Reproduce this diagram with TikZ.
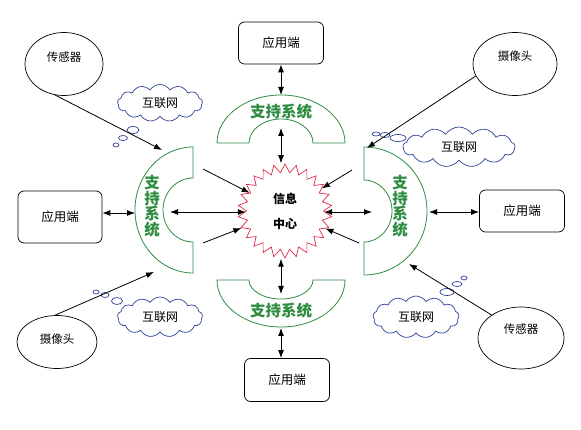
\documentclass[tikz,border=0pt]{standalone}
\usepackage{fontspec}
\setmainfont{Noto Sans CJK SC}
\usepackage{tikz}
\usetikzlibrary{arrows,arrows.meta,shapes,positioning}
\definecolor{supgreen}{RGB}{45,140,65}
\definecolor{starred}{RGB}{225,45,75}
\definecolor{netblue}{RGB}{45,65,150}
\tikzset{
  basic/.style  = {draw, inner sep=0pt, line width=0.7pt},
  client/.style = {basic, rounded corners=6pt, minimum width=85pt, minimum height=42pt, font=\fontsize{12.5}{14}\selectfont},
  device/.style = {basic, ellipse},
  devtext/.style = {font=\fontsize{11.5}{13}\selectfont},
  net/.style    = {basic, cloud, cloud puffs=13, cloud puff arc=115, aspect=2.4, draw=netblue, font=\fontsize{12}{14}\selectfont},
  bubble/.style = {basic, ellipse, draw=netblue},
  support/.style = {draw=supgreen, line width=0.8pt},
  suptext/.style = {text=supgreen, align=center, font=\bfseries\fontsize{15.5}{15.5}\selectfont},
  hub/.style    = {star, star points=26, star point ratio=1.22, draw=starred, line width=0.7pt, minimum size=94pt, inner sep=0pt, align=center, font=\bfseries\fontsize{12}{25}\selectfont},
  link/.style   = {<->, line width=0.9pt},
  feed/.style   = {->, line width=0.8pt}
}

\begin{document}
\begin{tikzpicture}[x=1pt, y=-1pt, >={Latex[length=8pt,width=6pt]}]
\useasboundingbox (0,0) rectangle (581,430);

% the information centre
\node[hub] (hub) at (285,211) {信息\\中心};

% the four support system arcs
\begin{scope}[support]
\draw (217,143) arc[start angle=180, end angle=360, x radius=64, y radius=48] -- (313,143)
  arc[start angle=0, end angle=-180, x radius=32, y radius=24] -- cycle;
\draw (193,147) arc[start angle=270, end angle=90, x radius=58, y radius=63] -- (193,242)
  arc[start angle=90, end angle=270, x radius=30, y radius=32] -- cycle;
\draw (364,147) arc[start angle=-90, end angle=90, x radius=63, y radius=64] -- (364,242)
  arc[start angle=90, end angle=-90, x radius=28, y radius=31] -- cycle;
\draw (217,280) arc[start angle=180, end angle=0, x radius=64, y radius=47] -- (313,280)
  arc[start angle=0, end angle=180, x radius=32, y radius=19] -- cycle;
\end{scope}
\node[suptext] (sup1) at (281,112) {支持系统};
\node[suptext] (sup2) at (152,206) {支\\持\\系\\统};
\node[suptext] (sup3) at (400,206) {支\\持\\系\\统};
\node[suptext] (sup4) at (281,311) {支持系统};

% contact points on the arcs
\coordinate (ta-out) at (281,95);
\coordinate (ta-in)  at (281,128);
\coordinate (la-out) at (135,213);
\coordinate (la-in)  at (170,212);
\coordinate (ra-in)  at (372,212);
\coordinate (ra-out) at (429,212);
\coordinate (ba-in)  at (281,294);
\coordinate (ba-out) at (281,328);
\coordinate (la-top) at (162,150);
\coordinate (ra-top) at (367,148);
\coordinate (la-bot) at (154,272);
\coordinate (ra-bot) at (409,264);

% application clients
\node[client] (app1) at (281,43) {应用端};
\node[client, minimum height=52pt, minimum width=84pt] (app2) at (60,217) {应用端};
\node[client] (app3) at (522,211) {应用端};
\node[client, minimum height=43pt] (app4) at (287,380) {应用端};

% sensors and cameras
\node[device, minimum width=78pt, minimum height=63pt, label={[devtext, yshift=7pt]center:传感器}] (s1) at (64,64) {};
\node[device, minimum width=84pt, minimum height=63pt, label={[devtext, yshift=8pt]center:摄像头}] (c1) at (515,64) {};
\node[device, minimum width=80pt, minimum height=53pt, label={[devtext, yshift=3pt]center:摄像头}] (c2) at (57,342) {};
\node[device, minimum width=86pt, minimum height=62pt, label={[devtext, yshift=9pt]center:传感器}] (s2) at (521,338) {};

% internet clouds with their bubbles
\node[net, minimum width=85pt, minimum height=37pt] (n1) at (160,103) {互联网};
\node[bubble, minimum width=12pt, minimum height=7pt] (b11) at (133,130) {};
\node[bubble, minimum width=9pt, minimum height=5pt] (b12) at (123,138) {};
\node[bubble, minimum width=6pt, minimum height=4pt] (b13) at (116,145) {};

\node[net, minimum width=112pt, minimum height=40pt] (n2) at (459,147) {互联网};
\node[bubble, minimum width=16pt, minimum height=7pt] (b21) at (398,138) {};
\node[bubble, minimum width=10pt, minimum height=5pt] (b22) at (385,135) {};
\node[bubble, minimum width=8pt, minimum height=4pt] (b23) at (376,134) {};

\node[net, minimum width=85pt, minimum height=40pt] (n3) at (160,317) {互联网};
\node[bubble, minimum width=11pt, minimum height=7pt] (b31) at (117,301) {};
\node[bubble, minimum width=8pt, minimum height=5pt] (b32) at (105,295) {};
\node[bubble, minimum width=6pt, minimum height=4pt] (b33) at (96,292) {};

\node[net, minimum width=86pt, minimum height=42pt] (n4) at (416,317) {互联网};
\node[bubble, minimum width=14pt, minimum height=7pt] (b41) at (447,292) {};
\node[bubble, minimum width=10pt, minimum height=5pt] (b42) at (457,284) {};
\node[bubble, minimum width=6pt, minimum height=4pt] (b43) at (464,278) {};

% clients <-> support systems <-> centre
\draw[link] (app1.south) -- (ta-out);
\draw[link] (ta-in) -- (ta-in |- hub.north);
\draw[link] (app2.east |- la-out) -- (la-out);
\draw[link] (la-in) -- (la-in -| hub.west);
\draw[link] (ra-in) -- (ra-in -| hub.east);
\draw[link] (ra-out) -- (ra-out -| app3.west);
\draw[link] (ba-in) -- (ba-in |- hub.south);
\draw[link] (ba-out) -- (ba-out |- app4.north);

% arrows into the centre
\coordinate (d1) at (203,169);
\coordinate (d2) at (203,243);
\coordinate (d3) at (352,170);
\coordinate (d4) at (359,243);
\draw[feed] (d1) -- (hub);
\draw[feed] (d2) -- (hub);
\draw[feed] (d3) -- (hub);
\draw[feed] (d4) -- (hub);

% devices to support systems
\draw[feed] (s1.254) -- (la-top);
\draw[feed] (c1.197) -- (ra-top);
\draw[feed] (c2.94) -- (la-bot);
\draw[feed] (s2.142) -- (ra-bot);
\end{tikzpicture}
\end{document}
